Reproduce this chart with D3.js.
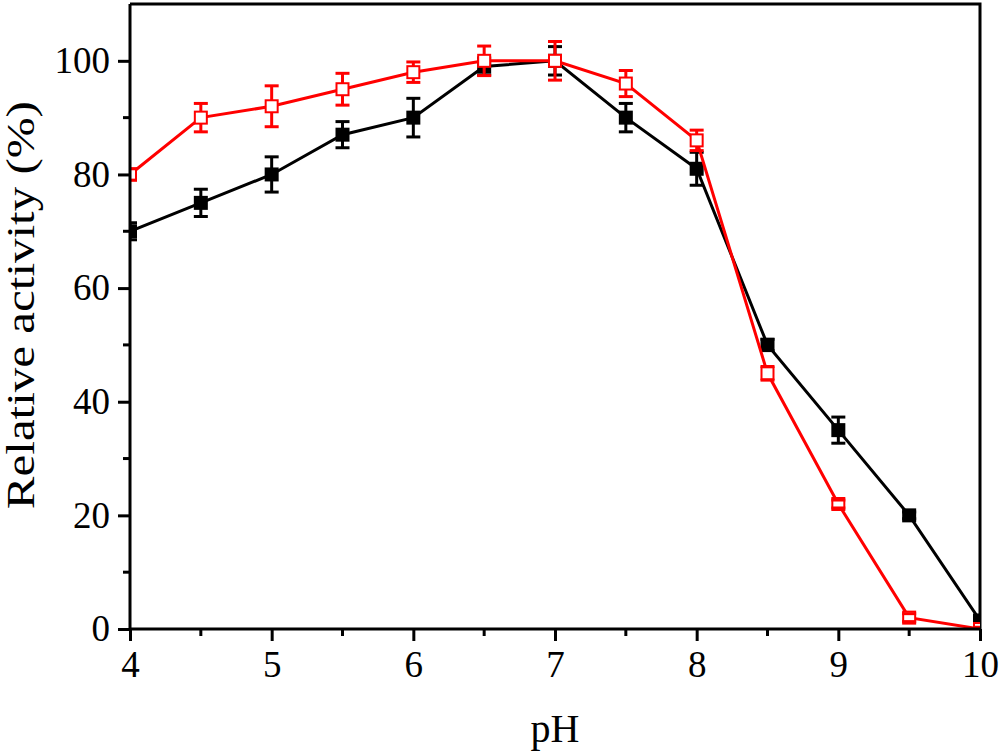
<!DOCTYPE html>
<html>
<head>
<meta charset="utf-8">
<script src="https://cdn.jsdelivr.net/npm/d3@7"></script>
<style>
  body { margin: 0; background: #fff; }
  text { font-family: "Liberation Serif", "Times New Roman", serif; fill: #000; }
</style>
</head>
<body>
<div id="chart"></div>
<script>
// data
var pH = [4, 4.5, 5, 5.5, 6, 6.5, 7, 7.5, 8, 8.5, 9, 9.5, 10];
var blackVals = [70, 75, 80, 87, 90, 99, 100, 90, 81, 50, 35, 20, 1.5];
var blackErr  = [1.5, 2.4, 3.1, 2.3, 3.4, 1.5, 2.5, 2.5, 2.9, 1.0, 2.3, 0.6, 0.5];
var redVals   = [80, 90, 92, 95, 98, 100, 100, 96, 86, 45, 22, 2, 0];
var redErr    = [1.0, 2.5, 3.6, 2.8, 1.8, 2.6, 3.4, 2.3, 1.8, 1.2, 0.7, 0.7, 0.3];
var xTicks = [4, 5, 6, 7, 8, 9, 10];
var xMinor = [4.5, 5.5, 6.5, 7.5, 8.5, 9.5];
var yTicks = [0, 20, 40, 60, 80, 100];
var yMinor = [10, 30, 50, 70, 90];

var W = 1000, H = 755;
var margin = {top: 4, right: 20, bottom: 126, left: 130},
    width = W - margin.left - margin.right,
    height = H - margin.top - margin.bottom;

var xScale = d3.scaleLinear().domain([4, 10]).range([0, width]),
    yScale = d3.scaleLinear().domain([0, 110]).range([height, 0]);

var svg = d3.select("#chart").append("svg")
    .attr("width", W)
    .attr("height", H)
    .append("g")
    .attr("transform", "translate(" + margin.left + "," + margin.top + ")");

svg.append("defs").append("clipPath")
    .attr("id", "plotclip")
    .append("rect")
    .attr("width", width)
    .attr("height", height);

// frame (top + right)
svg.append("path")
    .attr("d", "M0,0H" + width + "V" + height)
    .attr("fill", "none")
    .attr("stroke", "#000")
    .attr("stroke-width", 3);

// series
var series = [
  {vals: blackVals, err: blackErr, color: "#000", fill: "#000"},
  {vals: redVals, err: redErr, color: "#ff0000", fill: "#fff"}
];

var line = d3.line()
    .x(function(d) { return xScale(d.x); })
    .y(function(d) { return yScale(d.y); });

var plot = svg.append("g").attr("clip-path", "url(#plotclip)");

series.forEach(function(s) {
  var pts = pH.map(function(x, i) { return {x: x, y: s.vals[i], e: s.err[i]}; });
  var g = plot.append("g");

  g.append("path")
      .datum(pts)
      .attr("d", line)
      .attr("fill", "none")
      .attr("stroke", s.color)
      .attr("stroke-width", 3);

  // error bar stems (behind markers)
  g.selectAll(".stem").data(pts).enter().append("line")
      .attr("x1", function(d) { return xScale(d.x); })
      .attr("x2", function(d) { return xScale(d.x); })
      .attr("y1", function(d) { return yScale(d.y - d.e); })
      .attr("y2", function(d) { return yScale(d.y + d.e); })
      .attr("stroke", s.color).attr("stroke-width", 3);

  // markers
  g.selectAll(".mk").data(pts).enter().append("rect")
      .attr("x", function(d) { return xScale(d.x) - 6; })
      .attr("y", function(d) { return yScale(d.y) - 6; })
      .attr("width", 12)
      .attr("height", 12)
      .attr("fill", s.fill)
      .attr("stroke", s.color)
      .attr("stroke-width", 2);

  // caps on top
  [-1, 1].forEach(function(sg) {
    g.selectAll(".cap" + sg).data(pts).enter().append("line")
        .attr("x1", function(d) { return xScale(d.x) - 7; })
        .attr("x2", function(d) { return xScale(d.x) + 7; })
        .attr("y1", function(d) { return yScale(d.y + sg * d.e); })
        .attr("y2", function(d) { return yScale(d.y + sg * d.e); })
        .attr("stroke", s.color).attr("stroke-width", 3);
  });
});

// axes
var xAxis = d3.axisBottom(xScale).tickValues(xTicks).tickSize(12).tickPadding(10).tickFormat(d3.format("d"));
var yAxis = d3.axisLeft(yScale).tickValues(yTicks).tickSize(12).tickPadding(8);

var gx = svg.append("g")
    .attr("transform", "translate(0," + height + ")")
    .call(xAxis);
var gy = svg.append("g").call(yAxis);

[gx, gy].forEach(function(g) {
  g.attr("font-family", null).attr("font-size", null);
  g.select(".domain").attr("stroke-width", 3);
  g.selectAll(".tick line").attr("stroke-width", 3);
  g.selectAll(".tick text")
      .style("font-family", "'Liberation Serif', 'Times New Roman', serif")
      .style("font-size", "37px");
});
gy.select(".domain").attr("d", "M0," + height + "V0");
gx.select(".domain").attr("d", "M0,0H" + width);

// minor ticks
svg.append("g").selectAll("line").data(xMinor).enter().append("line")
    .attr("x1", function(d) { return xScale(d); })
    .attr("x2", function(d) { return xScale(d); })
    .attr("y1", height).attr("y2", height + 7)
    .attr("stroke", "#000").attr("stroke-width", 3);
svg.append("g").selectAll("line").data(yMinor).enter().append("line")
    .attr("y1", function(d) { return yScale(d); })
    .attr("y2", function(d) { return yScale(d); })
    .attr("x1", 0).attr("x2", -7)
    .attr("stroke", "#000").attr("stroke-width", 3);

// axis labels
svg.append("text")
    .attr("text-anchor", "middle")
    .attr("x", width / 2)
    .attr("y", height + 113)
    .style("font-family", "'Liberation Serif', 'Times New Roman', serif")
    .style("font-size", "40px")
    .text("pH");

svg.append("text")
    .attr("text-anchor", "middle")
    .attr("transform", "translate(" + (-96) + "," + (yScale(57)) + ") rotate(-90)")
    .attr("textLength", 408)
    .attr("lengthAdjust", "spacingAndGlyphs")
    .style("font-family", "'Liberation Serif', 'Times New Roman', serif")
    .style("font-size", "40px")
    .text("Relative activity (%)");
</script>
</body>
</html>
